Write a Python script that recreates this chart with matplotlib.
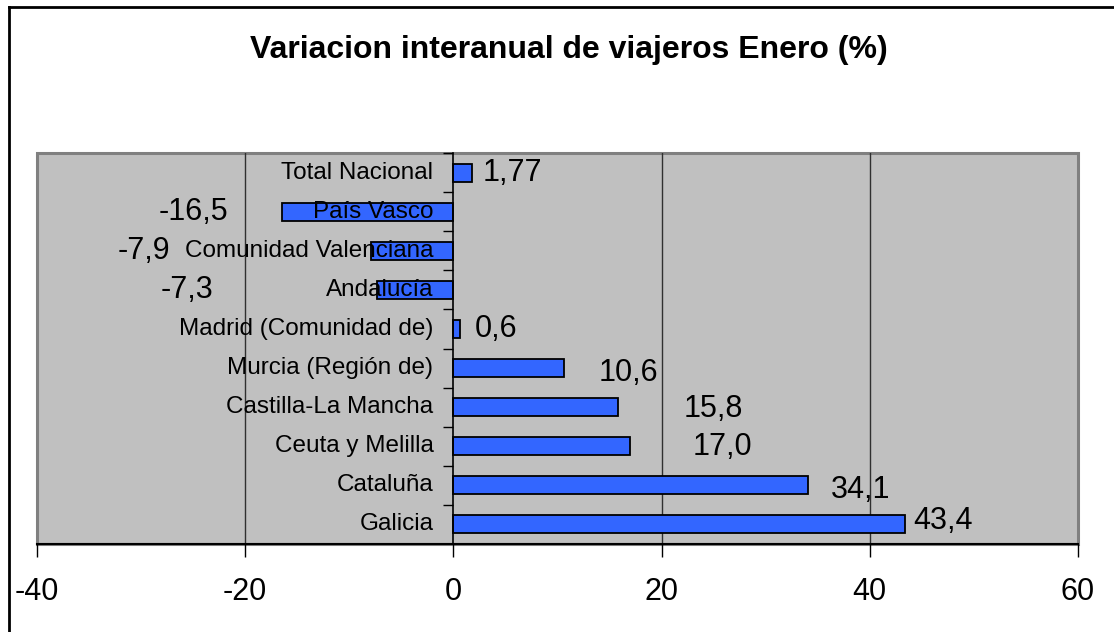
import matplotlib
matplotlib.use("Agg")
import matplotlib.pyplot as plt
from matplotlib.patches import Rectangle
from matplotlib.lines import Line2D

# ---- data ----
categories = ["Total Nacional", "País Vasco", "Comunidad Valenciana", "Andalucía",
              "Madrid (Comunidad de)", "Murcia (Región de)", "Castilla-La Mancha",
              "Ceuta y Melilla", "Cataluña", "Galicia"]
values = [1.77, -16.5, -7.9, -7.3, 0.6, 10.6, 15.8, 17.0, 34.1, 43.4]
decimals = [2, 1, 1, 1, 1, 1, 1, 1, 1, 1]
x_ticks = [-40, -20, 0, 20, 40, 60]
title = "Variacion interanual de viajeros Enero (%)"

# ---- layout of value labels (data-unit positions, as placed in the original) ----
label_x = [5.7, -25.0, -29.7, -25.6, 4.1, 16.8, 25.0, 25.8, 39.1, 47.0]
label_dy = [0.0, 0.0, 0.0, 0.0, 0.0, 0.13, 0.05, 0.02, 0.13, -0.1]

plt.rcParams['font.family'] = ['Liberation Sans', 'DejaVu Sans']

W, H = 1114, 632
fig = plt.figure(figsize=(W / 100, H / 100), dpi=100)
fig.patch.set_facecolor("white")

L, R, T, B = 37, 1078, 153, 544
ax = fig.add_axes([L / W, 1 - B / H, (R - L) / W, (B - T) / H])
ax.set_facecolor("#C0C0C0")

ypos = list(range(len(categories)))
ax.barh(ypos, values, height=0.46, color="#3366FF", edgecolor="black",
        linewidth=1.3, zorder=2)

ax.set_xlim(-40, 60)
ax.set_ylim(len(categories) - 0.5, -0.5)

# gridlines
for xv in x_ticks:
    if xv not in (-40, 0, 60):
        ax.axvline(xv, color="#303030", linewidth=1.0, zorder=1)

# frame
for s in ("top", "right"):
    ax.spines[s].set_visible(False)
ax.add_patch(Rectangle((0, 0), 1, 1, transform=ax.transAxes, fill=False,
                       edgecolor="#808080", linewidth=2.2, zorder=0.5, clip_on=False))
ax.spines["bottom"].set_color("black")
ax.spines["bottom"].set_linewidth(1.5)
ax.spines["bottom"].set_zorder(3)
ax.spines["left"].set_position(("data", 0))
ax.spines["left"].set_color("black")
ax.spines["left"].set_linewidth(1.2)
ax.spines["left"].set_zorder(3)

# x ticks
ax.set_xticks(x_ticks)
ax.set_xticklabels([str(v) for v in x_ticks])
ax.tick_params(axis="x", direction="out", length=9, width=1.0, color="black",
               labelsize=22, pad=15)

# y ticks: only small ticks at category boundaries on the zero axis
ax.set_yticks([])
ax.set_yticks([y + 0.5 for y in ypos[:-1]] + [-0.5], minor=True)
ax.tick_params(axis="y", which="minor", direction="out", length=7, width=1.0, color="black")

# category labels, drawn over the bars
for i, cat in enumerate(categories):
    ax.annotate(cat, xy=(0, i), xytext=(-20, 0), textcoords="offset pixels",
                ha="right", va="center", fontsize=17.5, color="black", zorder=6)

# value labels
for i, (v, d) in enumerate(zip(values, decimals)):
    txt = f"{v:.{d}f}".replace(".", ",")
    ax.text(label_x[i], i + label_dy[i], txt, ha="center", va="center",
            fontsize=22, color="black", zorder=6)

fig.text(0.511, 1 - 50 / H, title, ha="center", va="center",
         fontsize=23, fontweight="bold")

# outer figure border (left and top)
fig.add_artist(Line2D([9 / W, 9 / W], [0, 1 - 7 / H], transform=fig.transFigure,
                      color="black", linewidth=2))
fig.add_artist(Line2D([9 / W, 1], [1 - 7 / H, 1 - 7 / H], transform=fig.transFigure,
                      color="black", linewidth=2))

fig.savefig("out.png", dpi=100)
